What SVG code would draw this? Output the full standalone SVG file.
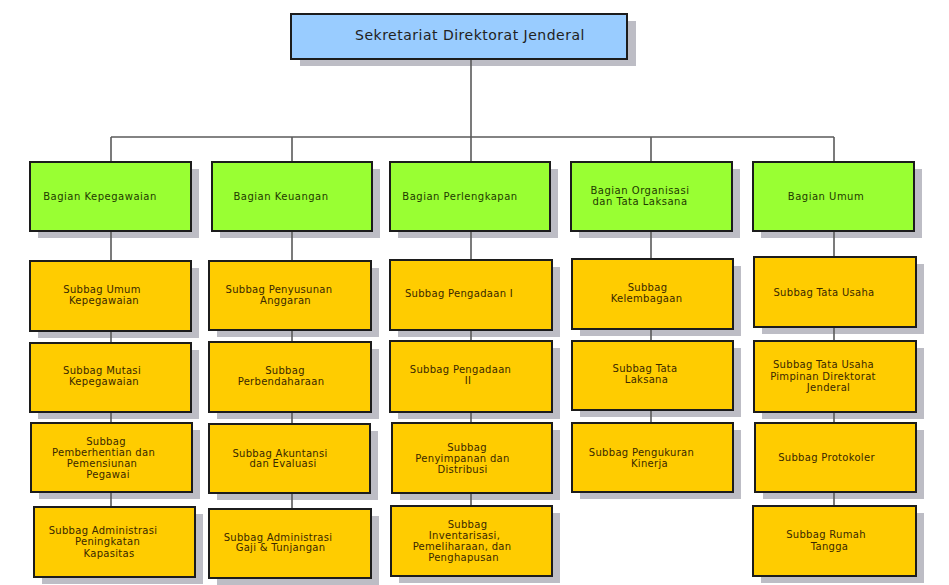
<svg xmlns="http://www.w3.org/2000/svg" width="949" height="585" viewBox="0 0 949 585">
<style>
.bg{fill:#ffffff}
.sh{fill:#bdbdc5}
.box{stroke:#1c1c1c;stroke-width:2}
.top{fill:#99ccff}
.grn{fill:#99ff33}
.ylw{fill:#ffcc00}
.ln{stroke:#5a5a5a;stroke-width:1.6;fill:none}
text{font-family:"DejaVu Sans","Verdana",sans-serif;text-anchor:middle}
.tt{font-size:14px;letter-spacing:0.5px;fill:#222222}
.gt{font-size:10px;letter-spacing:0.5px;fill:#1e3a00}
.yt{font-size:10px;letter-spacing:0.3px;fill:#3a2800}
</style>
<rect class="bg" x="0" y="0" width="949" height="585"/>
<g id="shadows">
<rect class="sh" x="300" y="21" width="336" height="45"/>
<rect class="sh" x="38" y="169" width="161" height="69"/>
<rect class="sh" x="220" y="169" width="160" height="69"/>
<rect class="sh" x="398" y="169" width="160" height="69"/>
<rect class="sh" x="579" y="169" width="161" height="69"/>
<rect class="sh" x="761" y="169" width="161" height="69"/>
<rect class="sh" x="38" y="268" width="161" height="70"/>
<rect class="sh" x="38" y="350" width="161" height="69"/>
<rect class="sh" x="39" y="430" width="161" height="69"/>
<rect class="sh" x="42" y="514" width="161" height="70"/>
<rect class="sh" x="217" y="268" width="162" height="69"/>
<rect class="sh" x="217" y="349" width="162" height="70"/>
<rect class="sh" x="217" y="431" width="161" height="69"/>
<rect class="sh" x="217" y="516" width="162" height="69"/>
<rect class="sh" x="398" y="267" width="162" height="70"/>
<rect class="sh" x="398" y="348" width="162" height="71"/>
<rect class="sh" x="400" y="430" width="160" height="70"/>
<rect class="sh" x="399" y="513" width="161" height="70"/>
<rect class="sh" x="580" y="266" width="161" height="70"/>
<rect class="sh" x="580" y="348" width="161" height="69"/>
<rect class="sh" x="580" y="430" width="161" height="69"/>
<rect class="sh" x="762" y="264" width="162" height="70"/>
<rect class="sh" x="762" y="348" width="162" height="71"/>
<rect class="sh" x="763" y="430" width="161" height="69"/>
<rect class="sh" x="761" y="513" width="163" height="70"/>
</g>
<g id="connectors">
<line class="ln" x1="471" y1="59" x2="471" y2="162"/>
<line class="ln" x1="111" y1="137" x2="834" y2="137"/>
<line class="ln" x1="111" y1="137" x2="111" y2="507"/>
<line class="ln" x1="292" y1="137" x2="292" y2="509"/>
<line class="ln" x1="471" y1="162" x2="471" y2="506"/>
<line class="ln" x1="651" y1="137" x2="651" y2="423"/>
<line class="ln" x1="834" y1="137" x2="834" y2="506"/>
</g>
<g id="n-sekretariat">
<rect class="box top" x="291" y="14" width="336" height="45"/>
<text class="tt" x="470" y="40">Sekretariat Direktorat Jenderal</text>
</g>
<g id="n-kepegawaian">
<rect class="box grn" x="30" y="162" width="161" height="69"/>
<text class="gt" x="100" y="199.5">Bagian Kepegawaian</text>
</g>
<g id="n-keuangan">
<rect class="box grn" x="212" y="162" width="160" height="69"/>
<text class="gt" x="281" y="199.5">Bagian Keuangan</text>
</g>
<g id="n-perlengkapan">
<rect class="box grn" x="390" y="162" width="160" height="69"/>
<text class="gt" x="460" y="199.5">Bagian Perlengkapan</text>
</g>
<g id="n-organisasi">
<rect class="box grn" x="571" y="162" width="161" height="69"/>
<text class="gt" x="640" y="193.5">Bagian Organisasi</text>
<text class="gt" x="640" y="204.5">dan Tata Laksana</text>
</g>
<g id="n-umum">
<rect class="box grn" x="753" y="162" width="161" height="69"/>
<text class="gt" x="826" y="199.5">Bagian Umum</text>
</g>
<g id="n-umum-kepeg">
<rect class="box ylw" x="30" y="261" width="161" height="70"/>
<text class="yt" x="102" y="292.5">Subbag Umum</text>
<text class="yt" x="104" y="303.5">Kepegawaian</text>
</g>
<g id="n-mutasi">
<rect class="box ylw" x="30" y="343" width="161" height="69"/>
<text class="yt" x="102" y="373.5">Subbag Mutasi</text>
<text class="yt" x="104" y="384.5">Kepegawaian</text>
</g>
<g id="n-pemberhentian">
<rect class="box ylw" x="31" y="423" width="161" height="69"/>
<text class="yt" x="106" y="444.5">Subbag</text>
<text class="yt" x="103.5" y="456">Pemberhentian dan</text>
<text class="yt" x="102" y="466.5">Pemensiunan</text>
<text class="yt" x="108" y="477.5">Pegawai</text>
</g>
<g id="n-adm-peningkatan">
<rect class="box ylw" x="34" y="507" width="161" height="70"/>
<text class="yt" x="103" y="533.5">Subbag Administrasi</text>
<text class="yt" x="107.5" y="545">Peningkatan</text>
<text class="yt" x="109" y="556.5">Kapasitas</text>
</g>
<g id="n-penyusunan">
<rect class="box ylw" x="209" y="261" width="162" height="69"/>
<text class="yt" x="279" y="292.5">Subbag Penyusunan</text>
<text class="yt" x="285.5" y="303.5">Anggaran</text>
</g>
<g id="n-perbendaharaan">
<rect class="box ylw" x="209" y="342" width="162" height="70"/>
<text class="yt" x="285" y="373.5">Subbag</text>
<text class="yt" x="281" y="384.5">Perbendaharaan</text>
</g>
<g id="n-akuntansi">
<rect class="box ylw" x="209" y="424" width="161" height="69"/>
<text class="yt" x="280" y="456.5">Subbag Akuntansi</text>
<text class="yt" x="283" y="467">dan Evaluasi</text>
</g>
<g id="n-adm-gaji">
<rect class="box ylw" x="209" y="509" width="162" height="69"/>
<text class="yt" x="278" y="540.5">Subbag Administrasi</text>
<text class="yt" x="280.5" y="551">Gaji &amp; Tunjangan</text>
</g>
<g id="n-pengadaan1">
<rect class="box ylw" x="390" y="260" width="162" height="70"/>
<text class="yt" x="459" y="296.5">Subbag Pengadaan I</text>
</g>
<g id="n-pengadaan2">
<rect class="box ylw" x="390" y="341" width="162" height="71"/>
<text class="yt" x="460.5" y="372.5">Subbag Pengadaan</text>
<text class="yt" x="468" y="383.5">II</text>
</g>
<g id="n-penyimpanan">
<rect class="box ylw" x="392" y="423" width="160" height="70"/>
<text class="yt" x="467" y="450.5">Subbag</text>
<text class="yt" x="462.5" y="461.5">Penyimpanan dan</text>
<text class="yt" x="462.5" y="472.5">Distribusi</text>
</g>
<g id="n-inventarisasi">
<rect class="box ylw" x="391" y="506" width="161" height="70"/>
<text class="yt" x="467.5" y="527.5">Subbag</text>
<text class="yt" x="464.5" y="538.5">Inventarisasi,</text>
<text class="yt" x="462" y="549.5">Pemeliharaan, dan</text>
<text class="yt" x="463.5" y="560.5">Penghapusan</text>
</g>
<g id="n-kelembagaan">
<rect class="box ylw" x="572" y="259" width="161" height="70"/>
<text class="yt" x="647.5" y="290.5">Subbag</text>
<text class="yt" x="646.5" y="301.5">Kelembagaan</text>
</g>
<g id="n-tata-laksana">
<rect class="box ylw" x="572" y="341" width="161" height="69"/>
<text class="yt" x="645" y="371.5">Subbag Tata</text>
<text class="yt" x="646.5" y="382.5">Laksana</text>
</g>
<g id="n-pengukuran">
<rect class="box ylw" x="572" y="423" width="161" height="69"/>
<text class="yt" x="641.5" y="455.5">Subbag Pengukuran</text>
<text class="yt" x="649.5" y="466.5">Kinerja</text>
</g>
<g id="n-tata-usaha">
<rect class="box ylw" x="754" y="257" width="162" height="70"/>
<text class="yt" x="824" y="295.5">Subbag Tata Usaha</text>
</g>
<g id="n-tu-pimpinan">
<rect class="box ylw" x="754" y="341" width="162" height="71"/>
<text class="yt" x="823.5" y="367.5">Subbag Tata Usaha</text>
<text class="yt" x="823" y="379.5">Pimpinan Direktorat</text>
<text class="yt" x="828.5" y="390.5">Jenderal</text>
</g>
<g id="n-protokoler">
<rect class="box ylw" x="755" y="423" width="161" height="69"/>
<text class="yt" x="826.5" y="460.5">Subbag Protokoler</text>
</g>
<g id="n-rumah-tangga">
<rect class="box ylw" x="753" y="506" width="163" height="70"/>
<text class="yt" x="826" y="537.5">Subbag Rumah</text>
<text class="yt" x="829.5" y="549.5">Tangga</text>
</g>
</svg>
